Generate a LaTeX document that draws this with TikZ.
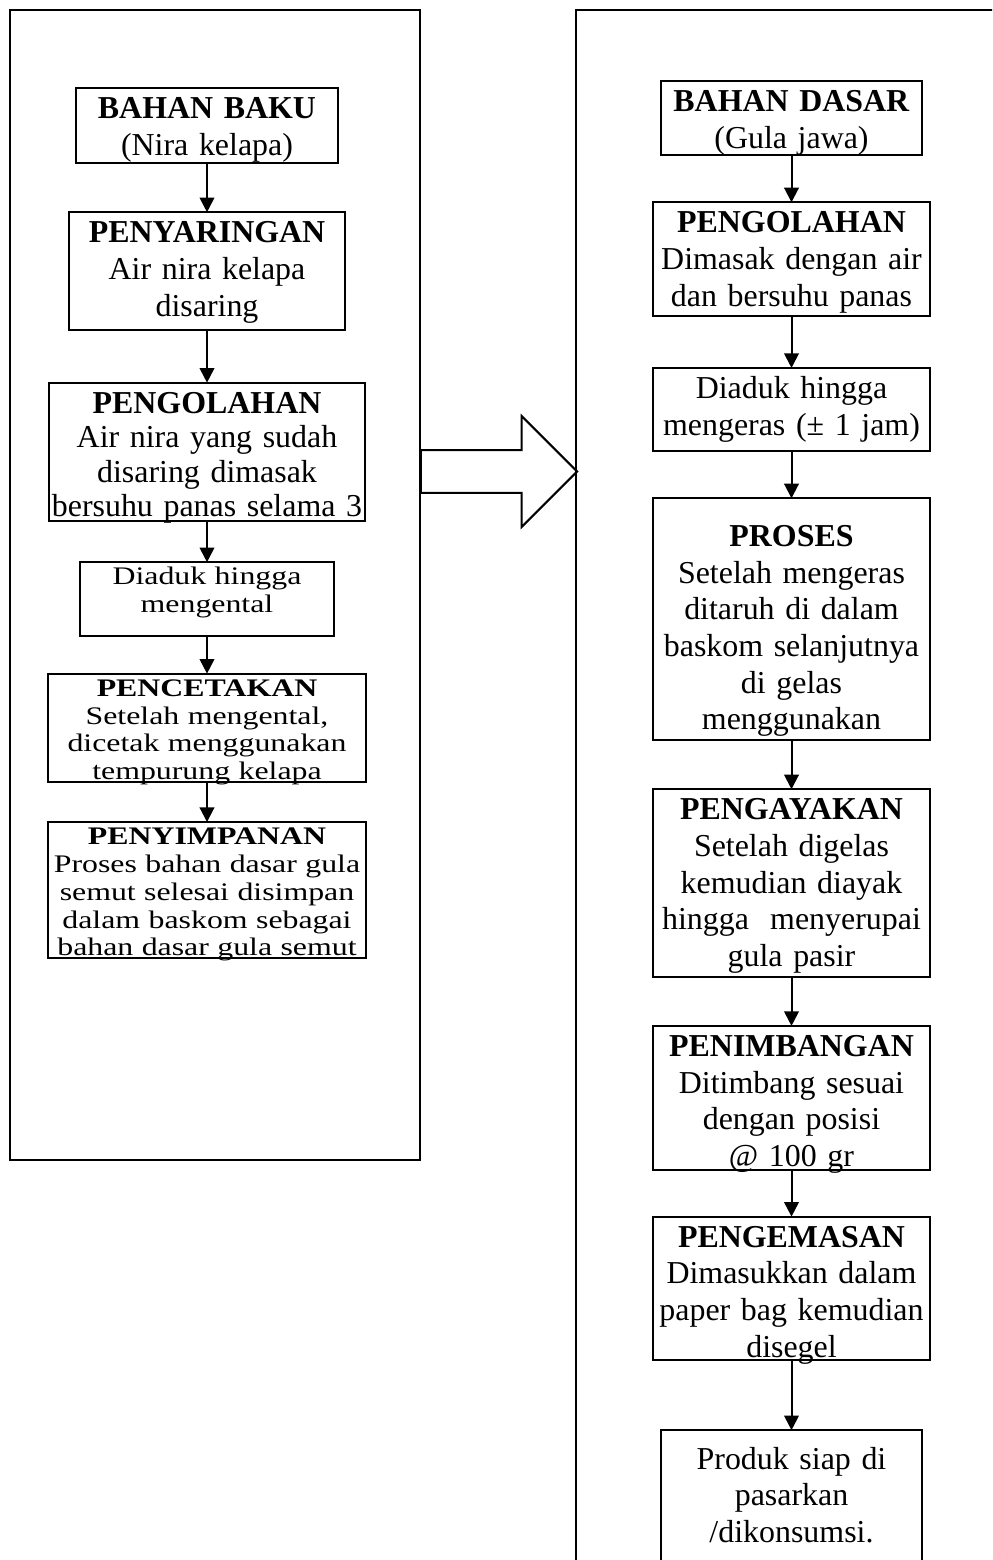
\documentclass[tikz,border=0pt]{standalone}
\usepackage{fontspec}
\setmainfont{Liberation Serif}
\newfontfamily\squashfont[FakeStretch=1.26]{Liberation Serif}
\usepackage{tikz}
\usetikzlibrary{arrows.meta,positioning,shapes.arrows}

\begin{document}
\begin{tikzpicture}[x=0.376pt,y=-0.376pt,node distance=18pt,box/.style={draw,line width=0.75pt,align=center,inner xsep=1pt,inner ysep=3pt,outer sep=0pt,text width=101.8pt,text height=8.5pt,font=\fontsize{12}{13.8}\selectfont},squash/.style={box,text height=5.5pt,font=\squashfont\fontsize{9.5}{10.45}\selectfont},arr/.style={-{Triangle[length=5.5pt,width=5.5pt]},line width=0.75pt},frame/.style={draw,line width=0.8pt},bigarr/.style={draw,line width=0.75pt,single arrow,single arrow head extend=12.8pt,inner sep=0pt,inner ysep=7.7pt,minimum height=58.7pt}]
\useasboundingbox (0,0) rectangle (992,1560);
\clip (0,0) rectangle (992,1560);
\draw[frame] (10,10) rectangle (420,1160);
\draw[frame] (576,10) rectangle (1000,1600);
\node[box,text width=96.5pt,text depth=13.8pt,anchor=north] (BB) at (207,88) {\textbf{BAHAN BAKU}\\(Nira kelapa)};
\node[box,text depth=29.7pt,below=18.4pt of BB] (SR) {\textbf{PENYARINGAN}\\Air nira kelapa\\disaring};
\node[box,text width=116.9pt,text depth=37.6pt,font=\fontsize{12}{13}\selectfont,below=19.9pt of SR] (OL) {\textbf{PENGOLAHAN}\\Air nira yang sudah\\disaring dimasak\\bersuhu panas selama 3};
\node[squash,text width=93.5pt,text depth=16.1pt,below=15.4pt of OL] (AD) {Diaduk hingga\\mengental};
\node[squash,text width=117.3pt,text depth=29.3pt,below=14.3pt of AD] (CT) {\textbf{PENCETAKAN}\\Setelah mengental,\\dicetak menggunakan\\tempurung kelapa};
\node[squash,text width=117.3pt,text depth=39.8pt,below=15pt of CT] (SP) {\textbf{PENYIMPANAN}\\Proses bahan dasar gula\\semut selesai disimpan\\dalam baskom sebagai\\bahan dasar gula semut};
\node[box,text width=96.5pt,text depth=13.4pt,anchor=north] (BD) at (791.5,81) {\textbf{BAHAN DASAR}\\(Gula jawa)};
\node[box,text depth=28.2pt,below=17.7pt of BD] (OH) {\textbf{PENGOLAHAN}\\Dimasak dengan air\\dan bersuhu panas};
\node[box,text depth=16.8pt,below=19.6pt of OH] (AK) {Diaduk hingga\\mengeras (± 1 jam)};
\node[box,text height=15.1pt,text depth=69.9pt,below=17.7pt of AK] (PR) {\textbf{PROSES}\\Setelah mengeras\\ditaruh di dalam\\baskom selanjutnya\\di gelas\\menggunakan};
\node[box,text depth=56.1pt,below=18.4pt of PR] (AY) {\textbf{PENGAYAKAN}\\Setelah digelas\\kemudian diayak\\hingga\ \ menyerupai\\gula pasir};
\node[box,text depth=39.5pt,below=18.4pt of AY] (TB) {\textbf{PENIMBANGAN}\\Ditimbang sesuai\\dengan posisi\\@ 100 gr};
\node[box,text depth=39.5pt,below=17.7pt of TB] (KM) {\textbf{PENGEMASAN}\\Dimasukkan dalam\\paper bag kemudian\\disegel};
\node[box,text width=96.2pt,text height=11.7pt,text depth=32.1pt,below=26.3pt of KM] (PS) {Produk siap di\\pasarkan\\/dikonsumsi.};
\node[bigarr,anchor=tail] (SH) at (420,471.5) {};
\foreach \a/\b in {BB/SR,SR/OL,OL/AD,AD/CT,CT/SP,BD/OH,OH/AK,AK/PR,PR/AY,AY/TB,TB/KM,KM/PS}{\draw[arr] (\a)--(\b);}
\end{tikzpicture}
\end{document}
